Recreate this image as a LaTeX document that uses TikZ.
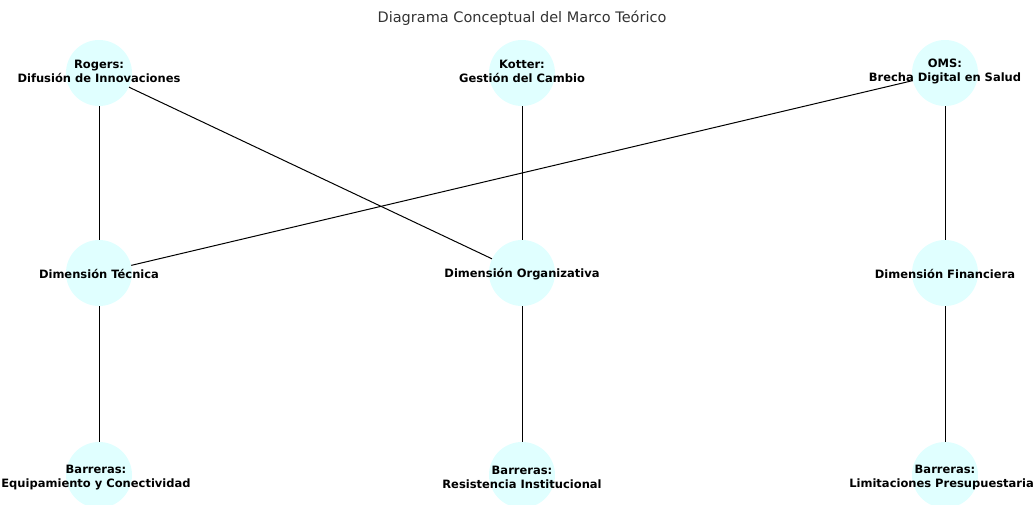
\documentclass[tikz,border=0pt]{standalone}
\usepackage{fontspec}
\setmainfont{DejaVu Sans}
\definecolor{nodefill}{HTML}{E0FFFF}
\definecolor{titlegray}{HTML}{333333}
\begin{document}
\begin{tikzpicture}[x=1pt,y=-1pt,
  concept/.style={circle,fill=nodefill,minimum size=66pt,inner sep=0pt},
  lbl/.style={font=\bfseries\fontsize{11.5}{13.5}\selectfont,align=center,text=black},
  edge/.style={draw=black,line width=1pt}]
\useasboundingbox (0,0) rectangle (1034,505);
\node[concept] (rogers) at (99,73) {};
\node[concept] (kotter) at (522,73) {};
\node[concept] (oms) at (945,73) {};
\node[concept] (tec) at (99,273) {};
\node[concept] (org) at (522,273) {};
\node[concept] (fin) at (945,273) {};
\node[concept] (b1) at (99,475) {};
\node[concept] (b2) at (522,475) {};
\node[concept] (b3) at (945,475) {};
\draw[edge] (rogers) -- (tec);
\draw[edge] (rogers) -- (org);
\draw[edge] (kotter) -- (org);
\draw[edge] (oms) -- (tec);
\draw[edge] (oms) -- (fin);
\draw[edge] (tec) -- (b1);
\draw[edge] (org) -- (b2);
\draw[edge] (fin) -- (b3);
\node[lbl] at ([yshift=1.5pt]rogers) {Rogers:\\Difusión de Innovaciones};
\node[lbl] at ([yshift=1.5pt]kotter) {Kotter:\\Gestión del Cambio};
\node[lbl] at ([yshift=1.5pt]oms) {OMS:\\Brecha Digital en Salud};
\node[lbl] at ([yshift=-1pt]tec) {Dimensión Técnica};
\node[lbl] at ([yshift=-1pt]org) {Dimensión Organizativa};
\node[lbl] at ([yshift=-1pt]fin) {Dimensión Financiera};
\node[lbl] at ([xshift=-3pt,yshift=-2.5pt]b1) {Barreras:\\Equipamiento y Conectividad};
\node[lbl] at ([yshift=-2.5pt]b2) {Barreras:\\Resistencia Institucional};
\node[lbl] at ([yshift=-2.5pt]b3) {Barreras:\\Limitaciones Presupuestarias};
\node[font=\fontsize{14.5}{17}\selectfont,text=titlegray] (title) at (522,18) {Diagrama Conceptual del Marco Teórico};
\end{tikzpicture}
\end{document}
